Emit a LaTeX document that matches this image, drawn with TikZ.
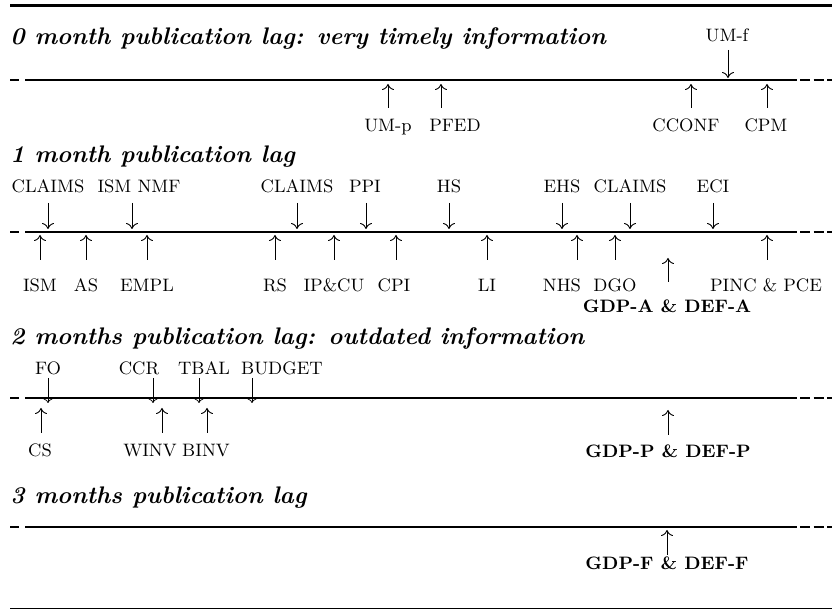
\documentclass[tikz,border=0pt]{standalone}
\usetikzlibrary{arrows.meta}
\newcommand\tline[2]{%
  \coordinate (#1-a) at (10,#2); \coordinate (#1-b) at (19,#2);
  \coordinate (#1-c) at (25,#2); \coordinate (#1-d) at (797,#2);
  \coordinate (#1-e) at (800,#2); \coordinate (#1-f) at (832,#2);
  \draw[axis] (#1-a) -- (#1-b);
  \draw[axis] (#1-c) -- (#1-d);
  \draw[axisdash] (#1-e) -- (#1-f);}
% #1 name, #2 label style, #3 label x, #4 label baseline y, #5 text, #6 arrow style, #7 arrow x, #8 arrow start y, #9 arrow tip y
\newcommand\evt[9]{%
  \node[#2] (#1) at (#3,#4) {#5};
  \coordinate (#1-s) at (#7,#8); \coordinate (#1-t) at (#7,#9);
  \draw[#6] (#1-s) -- (#1-t);}
\begin{document}
\begin{tikzpicture}[x=0.5pt,y=-0.5pt,
  title/.style={anchor=base west, inner sep=0pt, font=\fontsize{12}{14}\selectfont\bfseries\itshape},
  lbl/.style={anchor=base, inner sep=0pt, font=\fontsize{9}{11}\selectfont},
  blbl/.style={anchor=base, inner sep=0pt, font=\fontsize{9}{11}\selectfont\bfseries},
  arr/.style={line width=0.45pt, -{To[length=3pt,width=6pt]}},
  thinarr/.style={line width=0.35pt, -{To[length=2.2pt,width=4.5pt]}},
  axis/.style={line width=1.2pt},
  axisdash/.style={line width=0.6pt, dash pattern=on 5pt off 1.75pt},
  rule/.style={line width=1.5pt}]
\useasboundingbox (0,0) rectangle (832,610);
% rules
\coordinate (top-a) at (10,5.5); \coordinate (top-b) at (832,5.5);
\draw[rule] (top-a) -- (top-b);
\coordinate (bot-a) at (10,609); \coordinate (bot-b) at (832,609);
\draw[line width=0.5pt] (bot-a) -- (bot-b);
% titles
\node[title] (t0) at (10,45) {0 month publication lag: very timely information};
\node[title] (t1) at (10,163) {1 month publication lag};
\node[title] (t2) at (10,345) {2 months publication lag: outdated information};
\node[title] (t3) at (10,503) {3 months publication lag};
% timelines
\tline{L0}{80}
\tline{L1}{232}
\tline{L2}{398}
\tline{L3}{527}
% line 0
\evt{umf}{lbl}{727}{42}{UM-f}{arr}{728}{50}{78}
\evt{ump}{lbl}{388}{132}{UM-p}{arr}{388}{108}{84}
\evt{pfed}{lbl}{455}{132}{PFED}{arr}{441}{108}{84}
\evt{cconf}{lbl}{686}{132}{CCONF}{arr}{691}{108}{84}
\evt{cpm}{lbl}{766}{132}{CPM}{arr}{767}{108}{84}
% line 1 above
\evt{claimsA}{lbl}{48}{193}{CLAIMS}{arr}{48}{203}{229}
\evt{ismnmf}{lbl}{139}{193}{ISM NMF}{arr}{132}{203}{229}
\evt{claimsB}{lbl}{297}{193}{CLAIMS}{arr}{297}{203}{229}
\evt{ppi}{lbl}{365}{193}{PPI}{arr}{366}{203}{229}
\evt{hs}{lbl}{449}{193}{HS}{arr}{449}{203}{229}
\evt{ehs}{lbl}{562}{193}{EHS}{arr}{562}{203}{229}
\evt{claimsC}{lbl}{630}{193}{CLAIMS}{arr}{630}{203}{229}
\evt{eci}{lbl}{713}{193}{ECI}{arr}{713}{203}{229}
% line 1 below
\evt{ism}{lbl}{40}{292}{ISM}{arr}{40}{260}{235}
\evt{as}{lbl}{86}{292}{AS}{arr}{86}{260}{235}
\evt{empl}{lbl}{147}{292}{EMPL}{arr}{147}{260}{235}
\evt{rs}{lbl}{275}{292}{RS}{arr}{275}{260}{235}
\evt{ipcu}{lbl}{334}{292}{IP\&CU}{arr}{334}{260}{235}
\evt{cpi}{lbl}{394}{292}{CPI}{arr}{396}{260}{235}
\evt{li}{lbl}{487}{292}{LI}{arr}{487}{260}{235}
\evt{nhs}{lbl}{562}{292}{NHS}{arr}{577}{260}{235}
\evt{dgo}{lbl}{615}{292}{DGO}{arr}{615}{260}{235}
\evt{pinc}{lbl}{766}{292}{PINC \& PCE}{arr}{767}{260}{235}
\evt{gdpa}{blbl}{667}{313}{GDP-A \& DEF-A}{arr}{668}{282}{258}
% line 2 above
\evt{fo}{lbl}{48}{375}{FO}{thinarr}{48}{378}{403}
\evt{ccr}{lbl}{139}{375}{CCR}{thinarr}{153}{378}{403}
\evt{tbal}{lbl}{204}{375}{TBAL}{thinarr}{199}{378}{403}
\evt{budget}{lbl}{282}{375}{BUDGET}{thinarr}{252}{378}{403}
% line 2 below
\evt{cs}{lbl}{40}{457}{CS}{arr}{41}{433}{408}
\evt{winv}{lbl}{150}{457}{WINV}{arr}{162}{433}{408}
\evt{binv}{lbl}{206}{457}{BINV}{arr}{207}{433}{408}
\evt{gdpp}{blbl}{668}{458}{GDP-P \& DEF-P}{arr}{668}{435}{410}
% line 3 below
\evt{gdpf}{blbl}{667}{570}{GDP-F \& DEF-F}{arr}{667}{555}{530}
\end{tikzpicture}
\end{document}
